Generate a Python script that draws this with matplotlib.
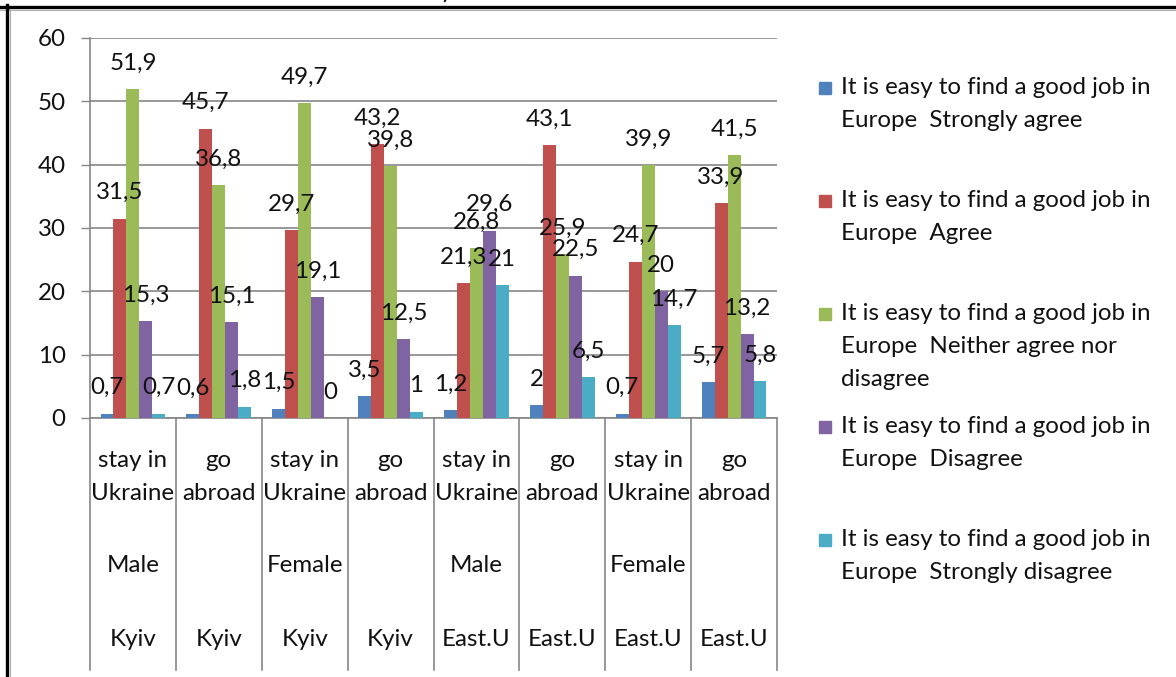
import matplotlib
matplotlib.use("Agg")
import matplotlib.pyplot as plt
from matplotlib.patches import Rectangle
from matplotlib.lines import Line2D
import numpy as np

plt.rcParams['font.family'] = ['Lato', 'DejaVu Sans']

# ---- data ----
row1 = ["stay in\nUkraine", "go\nabroad", "stay in\nUkraine", "go\nabroad",
        "stay in\nUkraine", "go\nabroad", "stay in\nUkraine", "go\nabroad"]
row2 = ["Male", "", "Female", "", "Male", "", "Female", ""]
row3 = ["Kyiv", "Kyiv", "Kyiv", "Kyiv", "East.U", "East.U", "East.U", "East.U"]

series_names = [
    "It is easy to find a good job in\nEurope  Strongly agree",
    "It is easy to find a good job in\nEurope  Agree",
    "It is easy to find a good job in\nEurope  Neither agree nor\ndisagree",
    "It is easy to find a good job in\nEurope  Disagree",
    "It is easy to find a good job in\nEurope  Strongly disagree",
]
strongly_agree    = [0.7, 0.6, 1.5, 3.5, 1.2, 2, 0.7, 5.7]
agree             = [31.5, 45.7, 29.7, 43.2, 21.3, 43.1, 24.7, 33.9]
neither           = [51.9, 36.8, 49.7, 39.8, 26.8, 25.9, 39.9, 41.5]
disagree          = [15.3, 15.1, 19.1, 12.5, 29.6, 22.5, 20, 13.2]
strongly_disagree = [0.7, 1.8, 0, 1, 21, 6.5, 14.7, 5.8]
series = [strongly_agree, agree, neither, disagree, strongly_disagree]
colors = ["#4F81BD", "#C0504D", "#9BBB59", "#8064A2", "#4BACC6"]

W, H = 1176, 677
fig = plt.figure(figsize=(W / 100, H / 100), dpi=100)

# axes placement in pixels
L, R, T, B = 90, 777, 38, 418
ax = fig.add_axes([L / W, (H - B) / H, (R - L) / W, (B - T) / H])

FS = 17.4
LS = 1.7
TXT = "#111111"
n = len(row1)
x = np.arange(n)
bw = 0.151
for i, (vals, c) in enumerate(zip(series, colors)):
    xs = x + (i - 2) * bw
    ax.bar(xs, vals, width=bw, color=c, zorder=3)
    for xi, v in zip(xs, vals):
        ax.annotate(f"{v:g}".replace(".", ","), xy=(xi, v), xytext=(0, 14),
                    textcoords="offset points", ha="center", va="baseline",
                    fontsize=FS, color=TXT, zorder=5)

ax.set_xlim(-0.5, n - 0.5)
ax.set_ylim(0, 60)
ax.set_yticks(range(0, 61, 10))
ax.tick_params(axis='y', length=6.5, width=1, color="#868686", pad=11,
               labelsize=FS, labelcolor=TXT)
ax.set_xticks([])
ax.yaxis.grid(True, color="#868686", linewidth=1.2, zorder=0)
for s in ["top", "right"]:
    ax.spines[s].set_visible(False)
ax.spines["left"].set_color("#868686")
ax.spines["bottom"].set_color("#868686")
ax.spines["left"].set_linewidth(1.2)
ax.spines["bottom"].set_linewidth(1.2)

def fy(py):
    return (B - py) / (B - T)

tr = ax.get_xaxis_transform()
for k in range(n + 1):
    ax.add_line(Line2D([k - 0.5, k - 0.5], [0, fy(670)], transform=tr,
                       color="#868686", linewidth=1.2, clip_on=False))
for k in range(n):
    ax.text(k, fy(477), row1[k], transform=tr, ha="center", va="center",
            fontsize=FS, linespacing=LS, color=TXT, clip_on=False)
    if row2[k]:
        ax.text(k, fy(566), row2[k], transform=tr, ha="center", va="center",
                fontsize=FS, color=TXT, clip_on=False)
    ax.text(k, fy(640), row3[k], transform=tr, ha="center", va="center",
            fontsize=FS, color=TXT, clip_on=False)

# legend (manual)
for i, (name, c) in enumerate(zip(series_names, colors)):
    cy = 88 + i * 113
    fig.patches.append(Rectangle((819 / W, (H - cy - 6) / H), 12 / W, 12 / H,
                                 transform=fig.transFigure, color=c))
    fig.text(841 / W, (H - cy + 11) / H, name, ha="left", va="top",
             fontsize=FS, linespacing=LS, color=TXT,
             transform=fig.transFigure)

# frame
fig.add_artist(Line2D([0, 1], [(H - 6.5) / H] * 2, transform=fig.transFigure,
                      color="black", linewidth=2.4))
fig.add_artist(Line2D([0, 1], [(H - 9.5) / H] * 2, transform=fig.transFigure,
                      color="#b0b0b0", linewidth=0.8))
fig.add_artist(Line2D([6.5 / W] * 2, [0, (H - 5) / H], transform=fig.transFigure,
                      color="black", linewidth=2.4))
fig.add_artist(Line2D([9.5 / W] * 2, [0, (H - 9) / H], transform=fig.transFigure,
                      color="#b0b0b0", linewidth=0.8))
fig.text(442 / W, (H + 1) / H, ")", ha="left", va="baseline", fontsize=FS)

fig.savefig("out.png", dpi=100)
